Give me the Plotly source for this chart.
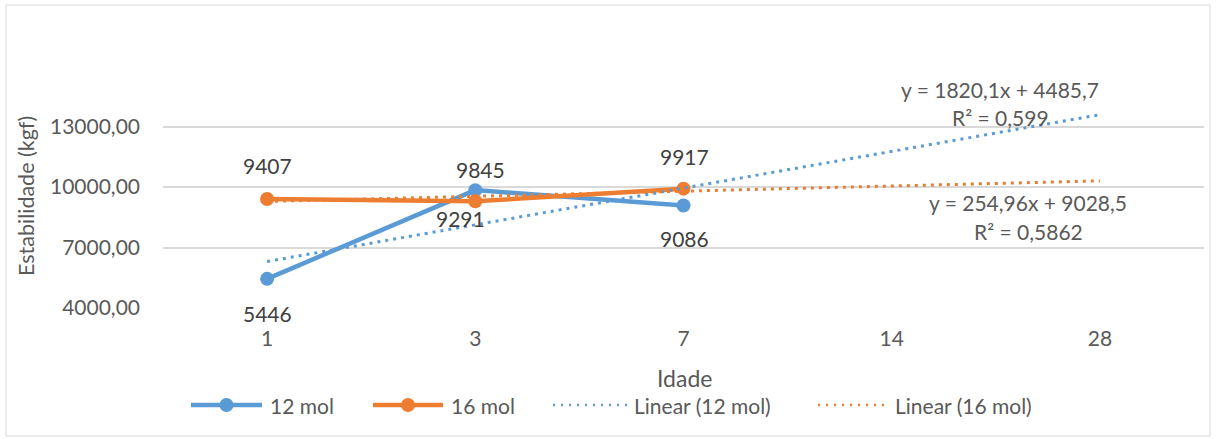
import plotly.graph_objects as go

# ---- data -------------------------------------------------------------
idade = ["1", "3", "7", "14", "28"]          # x categories (age)
mol12 = [5446, 9845, 9086]                   # stability, 12 mol series
mol16 = [9407, 9291, 9917]                   # stability, 16 mol series
fit12 = {"slope": 1820.1, "intercept": 4485.7, "r2": 0.599}
fit16 = {"slope": 254.96, "intercept": 9028.5, "r2": 0.5862}
y_ticks = [4000, 7000, 10000, 13000]

# ---- style ------------------------------------------------------------
BLUE = "#5B9BD5"
ORANGE = "#ED7D31"
GRID = "#D9D9D9"
TXT = "#595959"
LBL = "#404040"
FONT = "Lato"

W, H = 1216, 439
L, R, T, B = 163, 12, 66, 131
PW, PH = W - L - R, H - T - B


def px(xp):
    return (xp - L) / PW


def py(yp):
    return (H - B - yp) / PH


def dec(v):
    return str(v).replace(".", ",")


def trend(fit):
    # linear trend evaluated over category index 1..n
    xs = [idade[0], idade[-1]]
    ys = [fit["slope"] * i + fit["intercept"] for i in (1, len(idade))]
    return xs, ys


def note(xp, yp, text, size, color=TXT, xanchor="center", **kw):
    return dict(x=px(xp), y=py(yp), xref="paper", yref="paper",
                showarrow=False, text=text, xanchor=xanchor, yanchor="middle",
                font=dict(family=FONT, size=size, color=color), **kw)


fig = go.Figure()

fig.add_trace(go.Scatter(
    x=idade[:len(mol12)], y=mol12, mode="lines+markers", name="12 mol",
    line=dict(color=BLUE, width=4.5), marker=dict(size=14, color=BLUE),
    showlegend=False))
fig.add_trace(go.Scatter(
    x=idade[:len(mol16)], y=mol16, mode="lines+markers", name="16 mol",
    line=dict(color=ORANGE, width=4.5), marker=dict(size=14, color=ORANGE),
    showlegend=False))

for fit, col, nm in ((fit12, BLUE, "Linear (12 mol)"), (fit16, ORANGE, "Linear (16 mol)")):
    tx, ty = trend(fit)
    fig.add_trace(go.Scatter(
        x=tx, y=ty, mode="lines", name=nm,
        line=dict(color=col, width=3, dash="3px,5px"), showlegend=False))

annotations = []

# data labels: (xshift, yshift) per point
shifts12 = [(0, -35), (5, 21), (1, -33)]
shifts16 = [(0, 33), (-15, -17), (1, 32)]
for vals, shifts in ((mol12, shifts12), (mol16, shifts16)):
    for i, (v, (dx, dy)) in enumerate(zip(vals, shifts)):
        annotations.append(dict(
            x=i, y=v, xref="x", yref="y", text=str(v), showarrow=False,
            xanchor="center", yanchor="middle",
            xshift=dx, yshift=dy, font=dict(family=FONT, size=21, color=LBL)))

# trendline equations
for fit, xc, y1, y2 in ((fit12, 1000, 89, 118), (fit16, 1028, 202, 232)):
    annotations.append(note(
        xc, y1, f"y = {dec(fit['slope'])}x + {dec(fit['intercept'])}", 21))
    annotations.append(note(xc, y2, f"R² = {dec(fit['r2'])}", 21))

# axis titles
annotations.append(note(684, 378, "Idade", 23))
annotations.append(note(26, 196, "Estabilidade (kgf)", 21.5, textangle=-90))

shapes = []

# chart border
shapes.append(dict(
    type="rect", xref="paper", yref="paper",
    x0=px(6), x1=px(1210), y0=py(436), y1=py(5),
    line=dict(color=GRID, width=1), layer="below"))

# legend
leg_y = 405
legend_items = [
    ("12 mol", BLUE, "solid", 191, 262, 268),
    ("16 mol", ORANGE, "solid", 373, 443, 449),
    ("Linear (12 mol)", BLUE, "dot", 553, 628, 632),
    ("Linear (16 mol)", ORANGE, "dot", 818, 886, 893),
]
for label, col, kind, x0, x1, xt in legend_items:
    if kind == "solid":
        shapes.append(dict(
            type="line", xref="paper", yref="paper",
            x0=px(x0), x1=px(x1), y0=py(leg_y), y1=py(leg_y),
            line=dict(color=col, width=4.5)))
        xm, r = (x0 + x1) / 2, 7
        shapes.append(dict(
            type="circle", xref="paper", yref="paper",
            x0=px(xm - r), x1=px(xm + r), y0=py(leg_y + r), y1=py(leg_y - r),
            fillcolor=col, line=dict(color=col, width=0)))
    else:
        shapes.append(dict(
            type="line", xref="paper", yref="paper",
            x0=px(x0), x1=px(x1), y0=py(leg_y), y1=py(leg_y),
            line=dict(color=col, width=2.5, dash="2px,6px")))
    annotations.append(note(xt, leg_y, label, 21, xanchor="left"))

fig.update_layout(
    width=W, height=H,
    margin=dict(l=L, r=R, t=T, b=B),
    paper_bgcolor="white", plot_bgcolor="white",
    separators=",.",
    font=dict(family=FONT, color=TXT),
    showlegend=False,
    annotations=annotations,
    shapes=shapes,
)
fig.update_xaxes(
    type="category", categoryorder="array", categoryarray=idade,
    range=[-0.5, len(idade) - 0.5],
    showgrid=False, showline=False, zeroline=False, ticks="",
    tickfont=dict(family=FONT, size=21, color=TXT), ticklabelstandoff=16)
fig.update_yaxes(
    range=[4000, 16000], tickvals=y_ticks, tickformat=".2f",
    showgrid=True, gridcolor=GRID, gridwidth=1.5,
    showline=False, zeroline=False, ticks="",
    tickfont=dict(family=FONT, size=21, color=TXT), ticklabelstandoff=22)

fig.write_html("out.html")
